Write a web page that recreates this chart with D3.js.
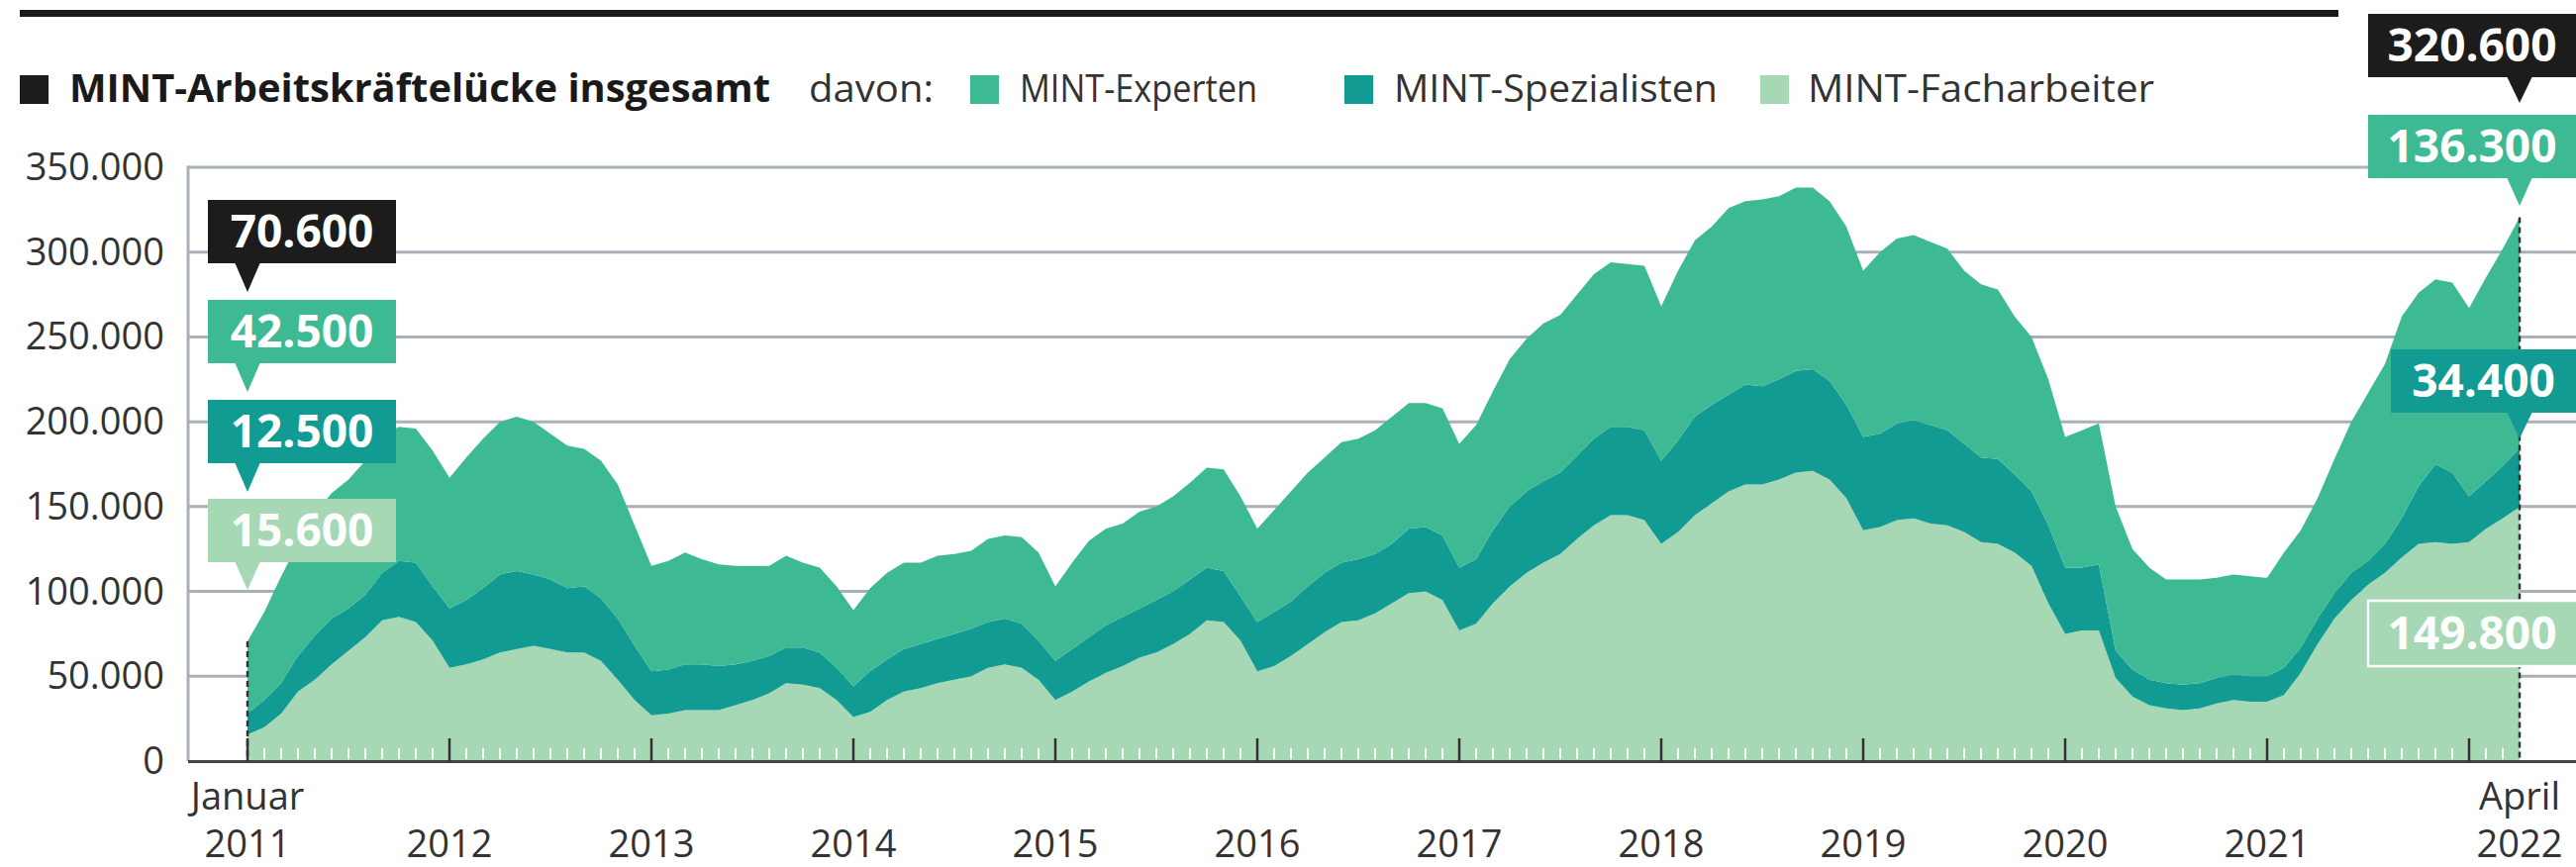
<!DOCTYPE html>
<html lang="de">
<head>
<meta charset="utf-8">
<script src="https://cdn.jsdelivr.net/npm/d3@7"></script>
<style>
  html, body { margin: 0; padding: 0; background: #fff; }
  svg { display: block; font-family: "Open Sans", sans-serif; }
</style>
</head>
<body>
<svg id="chart" width="2602" height="876"></svg>
<script>
// Werte in Tausend, monatlich von Januar 2011 (Index 0) bis April 2022 (Index 135)
const facharbeiter = [
  15.6, 20, 28, 41, 48, 57, 65, 73, 83, 85, 82, 71,
  55, 57, 60, 64, 66, 68, 66, 64, 64, 59, 48, 36,
  27, 28, 30, 30, 30, 33, 36, 40, 46, 45, 43, 36,
  26, 29, 36, 41, 43, 46, 48, 50, 55, 57, 55, 48,
  36, 41, 47, 52, 56, 61, 64, 69, 75, 83, 82, 71,
  53, 56, 62, 69, 76, 82, 83, 87, 93, 99, 100, 95,
  77, 81, 93, 103, 111, 117, 122, 131, 139, 145, 145, 142,
  128, 135, 145, 152, 159, 163, 163, 166, 170, 171, 166, 155,
  136, 138, 142, 143, 140, 139, 135, 129, 128, 123, 115, 93,
  75, 77, 77, 49, 38, 33, 31, 30, 31, 34, 36, 35,
  35, 39, 52, 69, 84, 95, 104, 111, 120, 128, 129, 128,
  129, 137, 143, 149.8
];
const spezialisten = [
  12.5, 16, 18, 21, 26, 27, 25, 25, 28, 33, 35, 32,
  35, 38, 42, 46, 46, 42, 41, 38, 39, 37, 36, 32,
  26, 26, 27, 27, 26, 24, 23, 22, 21, 22, 21, 19,
  18, 24, 24, 25, 26, 26, 27, 28, 27, 27, 26, 23,
  23, 25, 26, 28, 29, 29, 31, 31, 32, 31, 30, 26,
  29, 32, 32, 34, 35, 35, 36, 35, 35, 38, 38, 38,
  37, 38, 43, 47, 48, 48, 48, 49, 51, 52, 52, 53,
  49, 54, 58, 58, 57, 59, 58, 59, 60, 60, 58, 55,
  55, 55, 57, 58, 58, 56, 52, 50, 50, 46, 44, 46,
  39, 37, 39, 16, 16, 15, 15, 15, 15, 15, 15, 15,
  15, 16, 15, 15, 15, 16, 14, 17, 23, 34, 46, 42,
  27, 28, 31, 34.4
];
const experten = [
  42.5, 52, 63, 66, 72, 74, 76, 79, 81, 79, 79, 80,
  77, 84, 88, 90, 91, 90, 86, 84, 81, 81, 79, 71,
  62, 64, 66, 62, 60, 58, 56, 53, 54, 50, 50, 48,
  45, 49, 51, 51, 48, 49, 47, 46, 49, 49, 51, 52,
  44, 51, 57, 57, 55, 57, 55, 56, 57, 59, 60, 59,
  55, 60, 65, 67, 68, 71, 71, 73, 75, 74, 73, 75,
  73, 79, 82, 87, 90, 93, 93, 95, 97, 97, 96, 97,
  91, 100, 104, 105, 110, 108, 110, 108, 108, 107, 106, 105,
  98, 107, 109, 109, 108, 107, 102, 102, 100, 93, 91, 86,
  77, 81, 83, 85, 71, 66, 61, 62, 61, 59, 59, 59,
  58, 68, 69, 71, 79, 89, 99, 106, 119, 114, 109, 112,
  111, 120, 128, 136.3
];

const yTicks = [0, 50, 100, 150, 200, 250, 300, 350];
const yearLabels = ["2011", "2012", "2013", "2014", "2015", "2016", "2017", "2018", "2019", "2020", "2021"];
const keys = ["facharbeiter", "spezialisten", "experten"];
const startLabels = [70600, 42500, 12500, 15600]; // Januar 2011: insgesamt, Experten, Spezialisten, Facharbeiter
const endLabels = [320600, 136300, 34400, 149800]; // April 2022

const colors = {
  total: "#1c1c1c",
  experten: "#3dba93",
  spezialisten: "#129b93",
  facharbeiter: "#a6d8b5"
};

const de = d3.formatLocale({ decimal: ",", thousands: ".", grouping: [3], currency: ["", " €"] });
const fmt = de.format(",d");

const W = 2602, H = 876;
const svg = d3.select("#chart");

// table for d3.stack
const rows = facharbeiter.map((d, i) => ({
  i: i,
  facharbeiter: d,
  spezialisten: spezialisten[i],
  experten: experten[i]
}));
const stacked = d3.stack().keys(keys)(rows);

const x = d3.scaleLinear().domain([0, rows.length - 1]).range([250, 2545]);
const y = d3.scaleLinear().domain([0, 350]).range([769, 169]);
const plotLeft = 190;

// top rule
svg.append("rect")
  .attr("x", 20).attr("y", 10)
  .attr("width", 2342).attr("height", 7)
  .attr("fill", "#1a1a1a");

// gridlines
svg.append("g")
  .selectAll("line")
  .data(yTicks.filter(t => t > 0))
  .join("line")
  .attr("x1", plotLeft).attr("x2", W)
  .attr("y1", d => y(d)).attr("y2", d => y(d))
  .attr("stroke", "#a8b0b9")
  .attr("stroke-width", 3);

svg.append("line")
  .attr("x1", plotLeft).attr("x2", plotLeft)
  .attr("y1", y(350) - 1.5).attr("y2", y(0))
  .attr("stroke", "#a8b0b9")
  .attr("stroke-width", 3);

// stacked areas
const area = d3.area()
  .x(d => x(d.data.i))
  .y0(d => y(d[0]))
  .y1(d => y(d[1]));

svg.append("g")
  .selectAll("path")
  .data(stacked)
  .join("path")
  .attr("fill", d => colors[d.key])
  .attr("d", area);

// month ticks (white, inside area)
const monthIdx = d3.range(1, rows.length - 1).filter(i => i % 12 !== 0);
svg.append("g")
  .selectAll("line")
  .data(monthIdx)
  .join("line")
  .attr("x1", d => x(d)).attr("x2", d => x(d))
  .attr("y1", y(0) - 13).attr("y2", y(0) - 2)
  .attr("stroke", "#fff")
  .attr("stroke-width", 2);

// x axis line
svg.append("line")
  .attr("x1", plotLeft).attr("x2", W)
  .attr("y1", y(0) + 0.5).attr("y2", y(0) + 0.5)
  .attr("stroke", "#444")
  .attr("stroke-width", 3);

// year ticks
const yearIdx = d3.range(0, rows.length, 12);
svg.append("g")
  .selectAll("line")
  .data(yearIdx)
  .join("line")
  .attr("x1", d => x(d)).attr("x2", d => x(d))
  .attr("y1", y(0) - 23).attr("y2", y(0))
  .attr("stroke", "#333")
  .attr("stroke-width", 2.5);

// dashed markers at first and last month
const first = 0, last = rows.length - 1;
const totalAt = i => facharbeiter[i] + spezialisten[i] + experten[i];
[first, last].forEach(i => {
  svg.append("line")
    .attr("x1", x(i)).attr("x2", x(i))
    .attr("y1", y(totalAt(i))).attr("y2", y(0))
    .attr("stroke", "#333")
    .attr("stroke-width", 2.5)
    .attr("stroke-dasharray", "6,4");
});

// y tick labels
svg.append("g")
  .selectAll("text")
  .data(yTicks)
  .join("text")
  .attr("x", 166)
  .attr("y", d => y(d) + 13)
  .attr("text-anchor", "end")
  .attr("font-size", 38)
  .attr("fill", "#333")
  .text(d => fmt(d * 1000));

// x labels
svg.append("g")
  .selectAll("text")
  .data(yearLabels)
  .join("text")
  .attr("x", (d, k) => x(k * 12))
  .attr("y", 866)
  .attr("text-anchor", "middle")
  .attr("font-size", 38)
  .attr("fill", "#333")
  .text(d => d);

svg.append("text")
  .attr("x", x(first)).attr("y", 818)
  .attr("text-anchor", "middle")
  .attr("font-size", 38).attr("fill", "#333")
  .text("Januar");

svg.append("text")
  .attr("x", x(last)).attr("y", 818)
  .attr("text-anchor", "middle")
  .attr("font-size", 38).attr("fill", "#333")
  .text("April");

svg.append("text")
  .attr("x", x(last)).attr("y", 866)
  .attr("text-anchor", "middle")
  .attr("font-size", 38).attr("fill", "#333")
  .text("2022");

// legend
const legend = [
  { sq: 20, tx: 70, w: 708, label: "MINT-Arbeitskräftelücke insgesamt", color: colors.total, bold: true },
  { sq: null, tx: 817, w: 126, label: "davon:" },
  { sq: 980, tx: 1030, w: 240, label: "MINT-Experten", color: colors.experten },
  { sq: 1358, tx: 1408, w: 327, label: "MINT-Spezialisten", color: colors.spezialisten },
  { sq: 1778, tx: 1826, w: 350, label: "MINT-Facharbeiter", color: colors.facharbeiter }
];
const lg = svg.append("g");
legend.forEach(d => {
  if (d.sq !== null) {
    lg.append("rect")
      .attr("x", d.sq).attr("y", 76)
      .attr("width", 29).attr("height", 29)
      .attr("fill", d.color);
  }
  lg.append("text")
    .attr("x", d.tx).attr("y", 103)
    .attr("font-size", 39)
    .attr("font-weight", d.bold ? 700 : 400)
    .attr("fill", d.bold ? "#1a1a1a" : "#333")
    .attr("textLength", d.w)
    .attr("lengthAdjust", "spacingAndGlyphs")
    .text(d.label);
});

// value callouts
function callout(x0, x1, top, h, fill, value, tipX, tipY, outline) {
  const g = svg.append("g");
  if (tipY !== null) {
    g.append("path")
      .attr("d", `M${tipX - 13},${top + h - 1} L${tipX + 13},${top + h - 1} L${tipX},${tipY} Z`)
      .attr("fill", fill);
  }
  g.append("rect")
    .attr("x", x0).attr("y", top)
    .attr("width", x1 - x0).attr("height", h)
    .attr("fill", fill)
    .attr("stroke", outline ? "#fff" : "none")
    .attr("stroke-width", outline ? 2.5 : 0);
  g.append("text")
    .attr("x", (x0 + Math.min(x1, W)) / 2)
    .attr("y", top + h / 2 + 16)
    .attr("text-anchor", "middle")
    .attr("font-size", 46)
    .attr("font-weight", 700)
    .attr("fill", "#fff")
    .text(fmt(value));
}

const sx = x(first);
callout(210, 400, 202, 64, colors.total, startLabels[0], sx, 295);
callout(210, 400, 303, 64, colors.experten, startLabels[1], sx, 396);
callout(210, 400, 404, 64, colors.spezialisten, startLabels[2], sx, 497);
callout(210, 400, 504, 64, colors.facharbeiter, startLabels[3], sx, 596);

const ex = x(last);
callout(2392, 2606, 14, 64, colors.total, endLabels[0], ex, 104);
callout(2392, 2606, 116, 64, colors.experten, endLabels[1], ex, 208);
callout(2415, 2606, 353, 64, colors.spezialisten, endLabels[2], ex, 443);
callout(2392, 2606, 607, 66, colors.facharbeiter, endLabels[3], ex, null, true);
</script>
</body>
</html>
